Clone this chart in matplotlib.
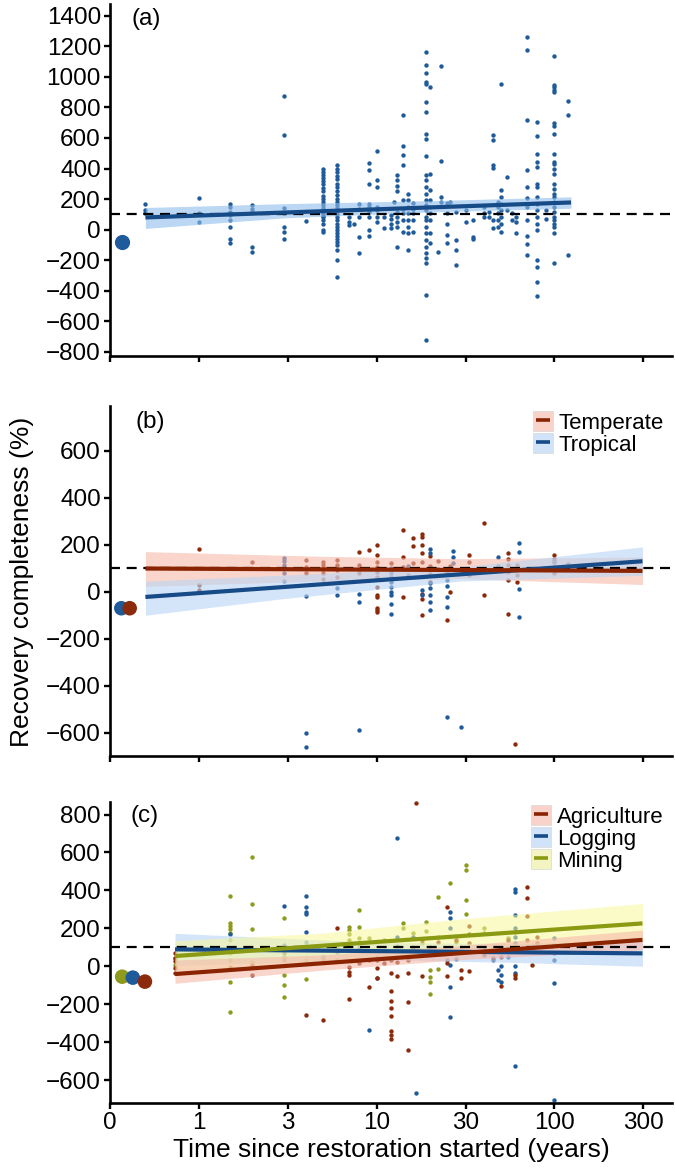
import numpy as np
import matplotlib
matplotlib.use('Agg')
import matplotlib.pyplot as plt
from matplotlib.patches import Patch
from matplotlib.lines import Line2D
from matplotlib.legend_handler import HandlerTuple

plt.rcParams['font.family'] = ['Liberation Sans', 'DejaVu Sans']

# ---------------- data (time in years, value in %) ----------------
# (a) all studies: columns of points
a_t = [0.5, 1, 1.5, 2, 3, 4, 5, 6, 7, 7.5, 8, 9, 10, 11, 12, 12.6, 13, 14, 15, 16,
       19, 20, 22, 23, 25, 26, 28, 32, 35, 40, 43, 45, 48, 50, 54, 58, 61, 70, 80, 90, 100, 120]
a_y = [[165, 130, 110], [210, 106, 51], [171, 149, 116, 95, 62, 18, -58, -90],
       [160, 138, 116, -112, -145], [872, 622, 139, 110, 18, -14, -58], [55],
       [400, 380, 360, 340, 320, 300, 270, 250, 220, 200, 180, 160, 140, 120, 100, 90, 80, 60, 40, -5, -15],
       [420, 400, 380, 350, 330, 300, 280, 250, 230, 200, 180, 160, 140, 120, 100, 80, 60, 40, 20, 0,
        -20, -40, -60, -80, -100, -130, -199, -308],
       [84, 51, 29], [40], [171, 138, 84, -47, -151],
       [437, 393, 302, 171, 149, 116, 84, 1, -42], [515, 328, 280, 149, 127, 84, 51],
       [84, 8], [99, 69, 40, 8], [182], [356, 323, 287, 254, 116, 84, 51, 18, -112],
       [753, 546, 491, 421, 193, 138, 106, 62, -14],
       [232, 193, 149, 106, 62, 18, -25, -134], [175, 138, 106, 62, -14],
       [1162, 1075, 1025, 966, 955, 835, 770, 629, 596, 480, 356, 323, 280, 236, 193, 160, 127, 84, 62,
        18, -25, -69, -112, -156, -188, -217, -428, -722],
       [933, 367, 258, 193, 149, 106, 62, -25, -90], [-149], [1071, 450, 215, 182],
       [175, 106, 40, -36, -90], [182], [116, -69, -134, -232], [127, 51], [62, -47, -64],
       [149, 106, 84], [116, 84], [618, 585, 421, 406, 62, 8], [182, 149, 106, 62, 18],
       [955, 258, 215, 171, 127, 84, 40, -18], [345, 127], [106, 62], [84, 51, -25],
       [1260, 1173, 720, 393, 280, 204, 149, 62, -42, -95, -167],
       [705, 611, 498, 443, 410, 302, 280, 215, 171, 127, 84, 40, -3, -199, -243, -341, -435],
       [127, 73],
       [1134, 944, 933, 916, 900, 698, 676, 629, 498, 443, 432, 400, 367, 302, 269, 236, 215, 182,
        149, 116, 84, 62, 40, 18, -25, -221],
       [842, 748, -167]]
a_fit_t = [0.5, 124]
a_fit_y = [80, 178]
a_band_t = [0.5, 3, 20, 124]
a_band_lo = [8, 77, 116, 140]
a_band_hi = [145, 170, 190, 215]
a_zero_t = [0.37]
a_zero_y = [-82]

# (b) temperate vs tropical
temp_t = [1, 2, 4, 5, 6, 8, 9, 10, 12, 14, 16, 18, 20, 22, 25, 26, 33, 40, 55, 60, 62, 100, 120]
temp_y = [[179, 27, 5], [126], [133, 105, 79], [126, 112, 98, 77, 55], [133, 112, 91, 62],
          [169, 112, 77], [176],
          [197, 155, 126, 105, 84, 62, 20, -16, -23, -70, -80, -87], [120, 90, 60],
          [264, 148, 105, -23], [228, 193, 120], [244, 233, 197, 162, 126, -9, -30, -100],
          [150, 110, 75, 40], [130, 95], [-122, 85], [-2, 110], [155, 126, 98, 70], [292, -16],
          [162, 140, 112, 84, 50, -97], [-651], [112, 70, 40], [155, 140, 126, 105, 91, 80], [119]]
trop_t = [3, 4, 6, 8, 12, 15, 18, 20, 25, 27, 30, 48, 63, 100]
trop_y = [[143, 130, 112, 77, 45], [-20, -604, -661], [95, 13, -13], [-11, -43, -590],
          [100, 80, 60, 40, 20, 0, -13, -54, -97], [110, 70], [6, -13],
          [183, 162, 36, 13, -16, -45, -77], [50, 25, -23, -67, -533], [172, 148, 120], [-576],
          [148, 110], [207, 169, 10, -107], [130, 100]]
temp_fit_t = [0.5, 313]
temp_fit_y = [98, 88]
temp_band_t = [0.5, 5, 30, 313]
temp_band_lo = [22, 45, 55, 30]
temp_band_hi = [170, 150, 140, 147]
trop_fit_t = [0.5, 313]
trop_fit_y = [-23, 129]
trop_band_t = [0.5, 3, 30, 313]
trop_band_lo = [-101, -30, 45, 69]
trop_band_hi = [44, 70, 105, 190]
b_zero_t = [0.366, 0.408]
b_zero_y = [-71, -71]

# (c) agriculture / logging / mining
agri_t = [0.73, 2, 3, 4, 5, 6, 7, 8, 9, 10, 11, 12, 13, 15, 16, 16.6, 18, 20, 22, 25, 28, 30,
          33, 40, 45, 50, 55, 60, 70, 75, 80]
agri_y = [[68, 42, 30, -11, -37], [7, -46], [68, 33], [95, -256], [33, -283], [200, 33],
          [-2, -28, -46, -174], [16], [33, -111], [33, -10, -63], [16],
          [33, -37, -130, -182, -220, -260, -339, -361, -382], [25, -51],
          [33, -33, -191, -440], [103], [860], [138, -51], [103], [130], [310, 77, 16, -54],
          [138], [103, -19, -63], [212, 168, 121, -23], [60], [42], [51, -104], [138],
          [-63, -44], [416, 358, 265, 138, 95], [7], [156, 121]]
log_t = [1.5, 3, 4, 5, 6, 8, 9, 10, 13, 16, 16.6, 20, 25, 26, 28, 40, 45, 48, 50, 55, 60, 100]
log_y = [[170], [319, 112], [370, 314, 284, 275, 182, 130], [42, 51], [77], [103], [-335],
         [-63, 51], [674, 156, 107], [152, 86], [-668], [68], [33],
         [288, 253, 200, 7, -107, -265], [36], [95], [33], [-19, -72], [2, -46, -81], [51],
         [405, 393, 270, 200, 156, 121, 0, -37, -528], [147, 112, 72, 33, -86, -704]]
min_t = [0.73, 1.5, 2, 3, 4, 5, 6, 7, 8, 9, 11, 14, 16, 18, 19, 20, 22, 26, 28, 32, 40, 55, 60]
min_y = [[7, 45], [372, 230, 212, 195, 173, 138, 68, 33, -2, -81, -239], [577, 328, 195, 24],
         [256, 103, 51, -46, -98, -160], [-68, 33], [51], [103], [209, 190, 170, 138],
         [296, 209, 147], [147], [138], [230, 200], [177], [121], [231, 186],
         [-19, -58, -85, -147], [367, 156, -16], [437], [130], [533, 507, 349, 274], [200, 174],
         [147], [182]]
agri_fit_t = [0.734, 313]
agri_fit_y = [-41, 139]
agri_band_t = [0.734, 5, 30, 313]
agri_band_lo = [-90, -20, 35, 86]
agri_band_hi = [33, 60, 110, 191]
log_fit_t = [0.734, 313]
log_fit_y = [89, 68]
log_band_t = [0.734, 10, 60, 313]
log_band_lo = [4, 35, 20, 0]
log_band_hi = [174, 125, 120, 136]
min_fit_t = [0.734, 313]
min_fit_y = [54, 226]
min_band_t = [0.734, 5, 30, 313]
min_band_lo = [-25, 30, 75, 130]
min_band_hi = [135, 175, 250, 331]
c_zero_t = [0.37, 0.425, 0.497]
c_zero_y = [-55, -60, -81]

xtick_pos = [10 ** -0.5, 1, 10 ** 0.5, 10, 10 ** 1.5, 100, 10 ** 2.5]
xtick_lab = ['0', '1', '3', '10', '30', '100', '300']

# ---------------- styles ----------------
blue_pt, blue_ln, blue_bd = '#1f5a9a', '#164b87', '#b9d5f5'
red_pt, red_ln, red_bd = '#8c2a0c', '#8a2400', '#f6b9ab'
ol_pt, ol_ln, ol_bd = '#8d9a1c', '#8a9a12', '#f8f89a'
pt_size = 10


def flat(ts, ys):
    xx, yy = [], []
    for t, col in zip(ts, ys):
        xx += [t] * len(col)
        yy += col
    return xx, yy


def style(ax, ylim, yticks, show_x):
    ax.set_xscale('log')
    ax.set_xlim(10 ** -0.5, 459)
    ax.set_ylim(*ylim)
    ax.set_yticks(yticks)
    ax.set_xticks(xtick_pos)
    ax.xaxis.set_minor_locator(matplotlib.ticker.NullLocator())
    ax.set_xticklabels(xtick_lab if show_x else [''] * len(xtick_pos))
    for s in ['top', 'right']:
        ax.spines[s].set_visible(False)
    for s in ['left', 'bottom']:
        ax.spines[s].set_linewidth(1.9)
    ax.tick_params(direction='out', length=4.5, width=1.7, labelsize=17.5, pad=2)
    ax.axhline(100, color='black', lw=1.6, ls=(0, (4.5, 3)), zorder=5)


fig = plt.figure(figsize=(6.75, 11.75), dpi=100)
ax_a = fig.add_axes([0.163, 0.697, 0.8326, 0.300])
ax_b = fig.add_axes([0.163, 0.3566, 0.8326, 0.2979])
ax_c = fig.add_axes([0.163, 0.0613, 0.8326, 0.2561])

# panel a
x, y = flat(a_t, a_y)
ax_a.scatter(x, y, s=pt_size, color=blue_pt, lw=0, zorder=2)
ax_a.fill_between(a_band_t, a_band_lo, a_band_hi, color='#8fbdeb', alpha=0.6, lw=0, zorder=3)
ax_a.plot(a_fit_t, a_fit_y, color=blue_ln, lw=3, solid_capstyle='butt', zorder=6)
ax_a.scatter(a_zero_t, a_zero_y, s=120, color=blue_pt, lw=0, zorder=6, clip_on=False)
style(ax_a, (-827, 1480), range(-800, 1401, 200), False)
ax_a.text(0.038, 0.957, '(a)', transform=ax_a.transAxes, fontsize=17.5, va='center')

# panel b
x, y = flat(temp_t, temp_y)
ax_b.scatter(x, y, s=pt_size, color=red_pt, lw=0, zorder=2, clip_on=False)
x, y = flat(trop_t, trop_y)
ax_b.scatter(x, y, s=pt_size, color=blue_pt, lw=0, zorder=2, clip_on=False)
ax_b.fill_between(temp_band_t, temp_band_lo, temp_band_hi, color=red_bd, alpha=0.6, lw=0, zorder=3)
ax_b.fill_between(trop_band_t, trop_band_lo, trop_band_hi, color=blue_bd, alpha=0.6, lw=0, zorder=3)
ax_b.plot(trop_fit_t, trop_fit_y, color=blue_ln, lw=3, solid_capstyle='butt', zorder=6)
ax_b.plot(temp_fit_t, temp_fit_y, color=red_ln, lw=3, solid_capstyle='butt', zorder=6)
ax_b.scatter(b_zero_t, b_zero_y, s=110, color=[blue_pt, red_pt], lw=0, zorder=6, clip_on=False)
style(ax_b, (-700, 790), range(-600, 601, 200), False)
ax_b.text(0.045, 0.955, '(b)', transform=ax_b.transAxes, fontsize=17.5, va='center')

# panel c
x, y = flat(min_t, min_y)
ax_c.scatter(x, y, s=pt_size, color=ol_pt, lw=0, zorder=2, clip_on=False)
x, y = flat(log_t, log_y)
ax_c.scatter(x, y, s=pt_size, color=blue_pt, lw=0, zorder=2, clip_on=False)
x, y = flat(agri_t, agri_y)
ax_c.scatter(x, y, s=pt_size, color=red_pt, lw=0, zorder=2, clip_on=False)
ax_c.fill_between(log_band_t, log_band_lo, log_band_hi, color=blue_bd, alpha=0.6, lw=0, zorder=3)
ax_c.fill_between(min_band_t, min_band_lo, min_band_hi, color=ol_bd, alpha=0.55, lw=0, zorder=3)
ax_c.fill_between(agri_band_t, agri_band_lo, agri_band_hi, color=red_bd, alpha=0.6, lw=0, zorder=3)
ax_c.plot(log_fit_t, log_fit_y, color=blue_ln, lw=3, solid_capstyle='butt', zorder=6)
ax_c.plot(agri_fit_t, agri_fit_y, color=red_ln, lw=3, solid_capstyle='butt', zorder=6)
ax_c.plot(min_fit_t, min_fit_y, color=ol_ln, lw=3, solid_capstyle='butt', zorder=6)
ax_c.scatter(c_zero_t, c_zero_y, s=110, color=[ol_pt, blue_pt, red_pt], lw=0, zorder=6, clip_on=False)
style(ax_c, (-721, 866), range(-600, 801, 200), True)
ax_c.text(0.036, 0.954, '(c)', transform=ax_c.transAxes, fontsize=17.5, va='center')
ax_c.set_xlabel('Time since restoration started (years)', fontsize=19, labelpad=3)


def handle(band, line):
    return (Patch(facecolor=band, edgecolor='#dcdcdc', lw=0.6),
            Line2D([], [], color=line, marker='_', markersize=10, markeredgewidth=2.6, ls='none'))


leg_kw = dict(frameon=False, fontsize=16, handlelength=0.9, handleheight=1.0,
              handletextpad=0.25, labelspacing=-0.02, borderpad=0, borderaxespad=0,
              handler_map={tuple: HandlerTuple(ndivide=1)})
ax_b.legend([handle('#f9d3ca', red_ln), handle('#d0e3f8', blue_ln)], ['Temperate', 'Tropical'],
            loc='upper right', bbox_to_anchor=(0.985, 0.985), **leg_kw)
ax_c.legend([handle('#f9d3ca', red_ln), handle('#d0e3f8', blue_ln), handle('#f4f4c2', ol_ln)],
            ['Agriculture', 'Logging', 'Mining'],
            loc='upper right', bbox_to_anchor=(0.985, 0.99), **leg_kw)

fig.text(0.033, 0.505, 'Recovery completeness (%)', rotation=90, fontsize=19,
         va='center', ha='center')

fig.savefig('out.png', dpi=100)
